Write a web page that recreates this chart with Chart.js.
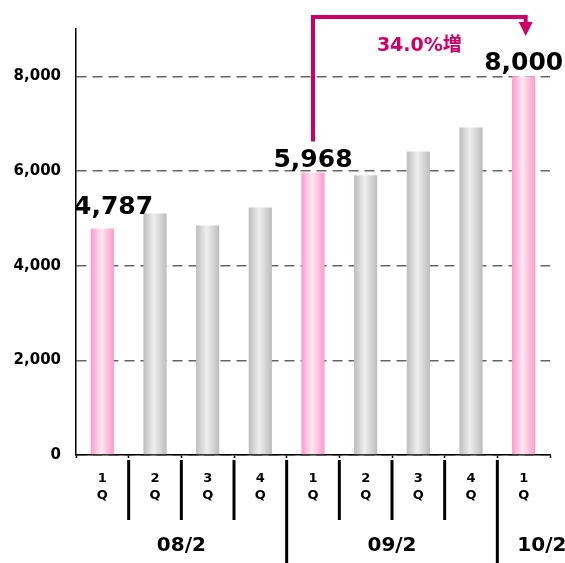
<!DOCTYPE html>
<html>
<head>
<meta charset="utf-8">
<script src="https://cdn.jsdelivr.net/npm/chart.js@4"></script>
<style>
  html, body { margin: 0; padding: 0; background: #fff; }
  #wrap { width: 565px; height: 563px; }
</style>
</head>
<body>
<div id="wrap"><canvas id="grafico"></canvas></div>
<script>
// datos
const quarters = ['1', '2', '3', '4', '1', '2', '3', '4', '1'];
const groups = ['08/2', '09/2', '10/2'];
const groupSizes = [4, 4, 1];
const sales = [4787, 5100, 4850, 5230, 5968, 5910, 6410, 6920, 8000];
const highlighted = [true, false, false, false, true, false, false, false, true];
const yTicks = [0, 2000, 4000, 6000, 8000];
const yMax = 9000;
const growthLabel = '34.0%増';
const growthFrom = 4;
const growthTo = 8;

const FONT = '"DejaVu Sans", "Noto Sans CJK JP", sans-serif';
const MAGENTA = '#cc0066';

// degradado horizontal para cada barra (cilindro)
function barFill(ctx) {
  const chart = ctx.chart;
  const i = ctx.dataIndex;
  const pink = highlighted[i];
  const xs = chart.scales.x;
  if (i === undefined || !chart.chartArea || !xs) return pink ? '#ffb3d6' : '#d6d6d6';
  const px = xs.getPixelForValue(i);
  const w = xs.width / quarters.length * 0.44;
  const g = chart.ctx.createLinearGradient(px - w / 2, 0, px + w / 2, 0);
  if (pink) {
    g.addColorStop(0, '#ff99c9');
    g.addColorStop(0.45, '#ffe9f3');
    g.addColorStop(1, '#ff99c9');
  } else {
    g.addColorStop(0, '#bdbdbd');
    g.addColorStop(0.45, '#efefef');
    g.addColorStop(1, '#bdbdbd');
  }
  return g;
}

// etiquetas, flecha, separadores y grupos
const extras = {
  id: 'extras',
  afterDatasetsDraw(chart) {
    const c = chart.ctx;
    const area = chart.chartArea;
    const xs = chart.scales.x;
    const bars = chart.getDatasetMeta(0).data;
    c.save();

    // valores sobre las barras destacadas
    c.font = 'bold 25px ' + FONT;
    c.fillStyle = '#000';
    c.textAlign = 'center';
    c.textBaseline = 'alphabetic';
    let labelTop = {};
    bars.forEach((b, i) => {
      if (!highlighted[i]) return;
      const txt = sales[i].toLocaleString('en-US');
      const w = c.measureText(txt).width;
      let x = b.x;
      let lift = 6;
      if (x - w / 2 < area.left - 2) { x = area.left - 2 + w / 2; lift = 14; }
      const y = b.y - lift;
      c.fillText(txt, x, y);
      labelTop[i] = y - 25;
    });

    // flecha de crecimiento
    const x1 = bars[growthFrom].x;
    const x2 = bars[growthTo].x + 2;
    const yTop = area.top - 12;
    c.strokeStyle = MAGENTA;
    c.fillStyle = MAGENTA;
    c.lineWidth = 4;
    c.lineJoin = 'miter';
    c.beginPath();
    c.moveTo(x1, labelTop[growthFrom]);
    c.lineTo(x1, yTop);
    c.lineTo(x2, yTop);
    c.lineTo(x2, yTop + 6);
    c.stroke();
    c.beginPath();
    c.moveTo(x2 - 7, yTop + 5);
    c.lineTo(x2 + 7, yTop + 5);
    c.lineTo(x2, yTop + 19);
    c.closePath();
    c.fill();
    c.font = 'bold 19px ' + FONT;
    c.textAlign = 'center';
    c.fillText(growthLabel, (x1 + x2) / 2, area.top + 22);

    // separadores bajo el eje
    const ends = [];
    let acc = 0;
    groupSizes.forEach(n => { acc += n; ends.push(acc); });
    c.strokeStyle = '#000';
    c.lineWidth = 3;
    for (let i = 0; i < quarters.length - 1; i++) {
      const bx = (xs.getPixelForValue(i) + xs.getPixelForValue(i + 1)) / 2;
      const isGroup = ends.includes(i + 1);
      c.beginPath();
      c.moveTo(bx, area.bottom + 5);
      c.lineTo(bx, isGroup ? chart.height : area.bottom + 65);
      c.stroke();
    }

    // nombres de los grupos
    c.font = 'bold 20px ' + FONT;
    c.fillStyle = '#000';
    c.textAlign = 'center';
    let start = 0;
    groups.forEach((g, k) => {
      const end = start + groupSizes[k] - 1;
      const left = start === 0 ? area.left : (xs.getPixelForValue(start - 1) + xs.getPixelForValue(start)) / 2;
      const center = (xs.getPixelForValue(start) + xs.getPixelForValue(end)) / 2;
      const w = c.measureText(g).width;
      const x = Math.max(center, left + 20 + w / 2);
      c.fillText(g, x, area.bottom + 96);
      start = end + 1;
    });

    c.restore();
  }
};

new Chart(document.getElementById('grafico'), {
  type: 'bar',
  data: {
    labels: quarters.map(q => [q, 'Q']),
    datasets: [{
      data: sales,
      backgroundColor: barFill,
      borderWidth: 0,
      categoryPercentage: 1,
      barPercentage: 0.44
    }]
  },
  options: {
    responsive: true,
    maintainAspectRatio: false,
    animation: false,
    layout: { padding: { top: 29, right: 15, left: 0, bottom: 0 } },
    plugins: { legend: { display: false }, tooltip: { enabled: false } },
    scales: {
      x: {
        afterFit: s => { s.height = 108; },
        grid: {
          display: true,
          drawOnChartArea: false,
          tickLength: 3,
          tickColor: '#000',
          tickWidth: 1.5
        },
        border: { display: true, color: '#000', width: 1.5 },
        ticks: {
          color: '#000',
          padding: 12,
          font: { family: FONT, size: 13, weight: 'bold', lineHeight: 1.3 },
          maxRotation: 0
        }
      },
      y: {
        min: 0,
        max: yMax,
        afterFit: s => { s.width = 76; },
        afterBuildTicks: s => { s.ticks = yTicks.map(v => ({ value: v })); },
        grid: { color: '#666', lineWidth: 1.5, drawTicks: false },
        border: { display: true, color: '#000', width: 1.5, dash: [10, 6] },
        ticks: {
          autoSkip: false,
          color: '#000',
          padding: 15,
          font: { family: FONT, size: 15, weight: 'bold' },
          callback: v => v.toLocaleString('en-US')
        }
      }
    }
  },
  plugins: [extras]
});
</script>
</body>
</html>
